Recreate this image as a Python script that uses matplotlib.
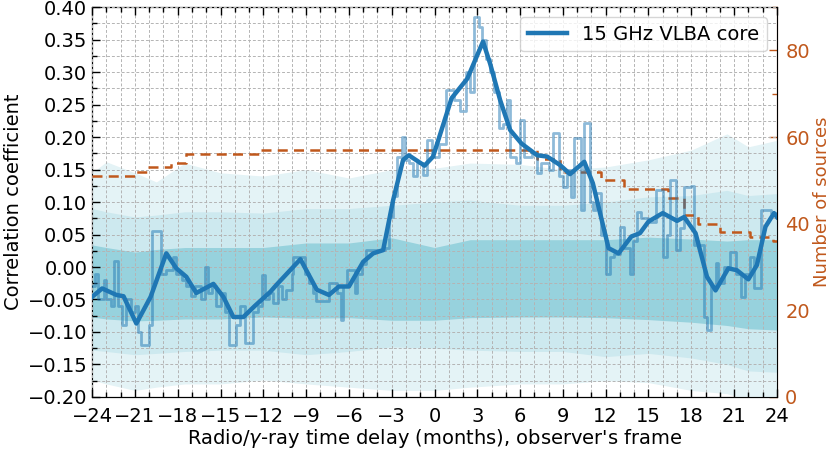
import matplotlib
matplotlib.use("Agg")
import matplotlib.pyplot as plt
from matplotlib.ticker import MultipleLocator, FuncFormatter

# ---- data ----
raw_lag = [-24.0, -23.8, -23.6, -23.2, -23.0, -22.7, -22.5, -22.2, -21.9, -21.6, -21.3, -21.0, -20.8, -20.6,
           -20.0, -19.8, -19.2, -18.8, -18.3, -18.1, -17.7, -17.4, -17.1, -16.8, -16.4, -16.1, -15.9, -15.6,
           -15.3, -15.0, -14.7, -14.4, -13.9, -13.6, -13.3, -12.7, -12.4, -12.1, -11.9, -11.6, -11.3, -11.0,
           -10.7, -10.4, -10.0, -9.9, -9.1, -8.8, -8.5, -8.3, -7.4, -6.8, -6.55, -6.4, -6.1, -5.6, -5.4, -5.1,
           -4.8, -3.5, -3.2, -2.9, -2.6, -2.3, -2.1, -1.8, -1.5, -1.2, -0.8, -0.5, -0.2, 0.3, 0.8, 1.4, 1.8,
           2.2, 2.5, 2.8, 3.1, 3.3, 3.6, 3.9, 4.2, 4.5, 4.8, 5.1, 5.3, 5.7, 6.0, 6.3, 6.8, 7.2, 7.5, 8.0, 8.3,
           8.7, 9.0, 9.3, 9.6, 9.8, 10.3, 10.5, 10.9, 11.1, 11.3, 11.7, 12.0, 12.3, 12.6, 13.0, 13.3, 13.7,
           13.9, 14.2, 14.5, 15.0, 15.5, 16.0, 16.3, 16.5, 16.9, 17.2, 17.5, 18.0, 18.2, 18.9, 19.1, 19.4,
           19.7, 19.9, 20.3, 20.7, 21.1, 21.5, 21.8, 22.1, 22.4, 22.9, 23.6, 24.0]
raw_corr = [-0.03, -0.01, -0.05, -0.02, -0.05, -0.06, 0.01, -0.06, -0.09, -0.05, -0.07, -0.06, -0.10, -0.12,
            -0.09, 0.055, -0.01, -0.005, 0.015, -0.01, -0.02, -0.03, -0.045, -0.03, -0.05, 0.0, -0.04, -0.03,
            -0.06, -0.04, -0.07, -0.12, -0.09, -0.06, -0.117, -0.07, -0.06, -0.012, -0.05, -0.04, -0.055, -0.03,
            -0.05, -0.035, -0.01, 0.016, -0.01, -0.025, -0.04, -0.053, -0.025, -0.04, -0.082, -0.03, -0.005,
            -0.04, -0.01, 0.005, 0.026, 0.03, 0.077, 0.11, 0.17, 0.20, 0.165, 0.16, 0.14, 0.16, 0.142, 0.195,
            0.17, 0.19, 0.272, 0.257, 0.24, 0.30, 0.27, 0.385, 0.37, 0.35, 0.32, 0.30, 0.27, 0.214, 0.22, 0.257,
            0.17, 0.16, 0.226, 0.17, 0.175, 0.144, 0.16, 0.15, 0.206, 0.14, 0.123, 0.15, 0.108, 0.198, 0.088,
            0.221, 0.10, 0.088, 0.114, 0.05, -0.01, 0.015, 0.02, 0.062, 0.03, -0.01, 0.04, 0.085, 0.075, 0.07,
            0.118, 0.015, 0.05, 0.134, 0.026, 0.06, 0.123, 0.125, 0.034, -0.077, -0.097, -0.03, 0.006, -0.025,
            0.0, 0.023, -0.01, -0.046, -0.01, 0.015, -0.033, 0.088, 0.083, 0.083]

smooth_lag = [-24.0, -23.3, -22.3, -21.8, -20.9, -19.9, -18.8, -18.1, -17.4, -16.7, -15.5, -14.8, -14.1,
              -13.4, -12.6, -11.5, -11.1, -9.4, -8.25, -7.4, -6.7, -6.0, -5.0, -4.3, -3.6, -2.9, -2.2, -1.8,
              -0.7, -0.1, 1.2, 2.3, 3.4, 3.9, 4.6, 5.3, 6.1, 7.2, 7.9, 8.8, 9.5, 10.5, 11.1, 12.2, 12.9, 13.8,
              14.4, 15.0, 16.0, 17.0, 17.5, 18.3, 19.1, 19.7, 20.6, 21.2, 22.0, 22.6, 23.2, 23.8, 24.0]
smooth_corr = [-0.046, -0.033, -0.043, -0.045, -0.087, -0.046, 0.021, -0.002, -0.015, -0.040, -0.026, -0.046,
               -0.077, -0.077, -0.060, -0.038, -0.028, 0.012, -0.035, -0.043, -0.030, -0.030, 0.008, 0.021,
               0.026, 0.103, 0.165, 0.172, 0.156, 0.170, 0.260, 0.290, 0.347, 0.313, 0.257, 0.211, 0.190,
               0.172, 0.170, 0.157, 0.143, 0.162, 0.129, 0.029, 0.021, 0.047, 0.052, 0.070, 0.083, 0.071,
               0.077, 0.052, -0.015, -0.036, -0.002, -0.005, -0.019, 0.003, 0.062, 0.083, 0.077]

nsrc_lag = [-24, -20.9, -20.1, -18.5, -17.4, -12.2, 7.2, 8.8, 11.7, 13.3, 16.4, 17.5, 18.5, 20.0, 22.15, 23.7, 24]
nsrc = [51, 52, 53, 54, 56, 57, 55, 52, 50, 48, 46, 42, 40, 38, 37, 36, 36]

band_lag = [-24, -23, -21, -19.5, -17.5, -15, -12, -9, -6, -3, 0, 2.5, 6, 9, 12, 15, 18, 20.5, 22, 24]
outer_hi = [0.145, 0.162, 0.145, 0.131, 0.16, 0.145, 0.14, 0.15, 0.137, 0.15, 0.152, 0.16, 0.158, 0.15,
            0.154, 0.165, 0.18, 0.205, 0.185, 0.195]
mid_hi = [0.09, 0.085, 0.077, 0.08, 0.085, 0.085, 0.083, 0.09, 0.09, 0.095, 0.1, 0.103, 0.095, 0.095,
          0.1, 0.108, 0.11, 0.118, 0.11, 0.113]
inner_hi = [0.034, 0.03, 0.023, 0.027, 0.03, 0.03, 0.03, 0.037, 0.037, 0.045, 0.03, 0.042, 0.042, 0.042,
            0.042, 0.046, 0.043, 0.04, 0.042, 0.042]
inner_lo = [-0.077, -0.08, -0.083, -0.082, -0.08, -0.08, -0.077, -0.079, -0.078, -0.082, -0.082, -0.078,
            -0.077, -0.077, -0.078, -0.081, -0.085, -0.09, -0.095, -0.097]
mid_lo = [-0.128, -0.13, -0.135, -0.133, -0.13, -0.128, -0.128, -0.135, -0.13, -0.123, -0.125, -0.128,
          -0.13, -0.13, -0.138, -0.133, -0.14, -0.15, -0.16, -0.162]
outer_lo = [-0.174, -0.18, -0.19, -0.185, -0.18, -0.18, -0.174, -0.18, -0.185, -0.19, -0.19, -0.185,
            -0.18, -0.18, -0.175, -0.178, -0.19, -0.195, -0.205, -0.21]

xticks = list(range(-24, 25, 3))

# ---- plot ----
plt.rcParams['font.family'] = ['DejaVu Sans']
plt.rcParams['axes.unicode_minus'] = True

BLUE = '#1f77b4'
ORANGE = '#c0581c'
FS_TICK = 14
FS_LAB = 14

fig = plt.figure(figsize=(8.3, 4.49), dpi=100)
ax = fig.add_axes([0.111, 0.116, 0.825, 0.868])
ax2 = ax.twinx()
ax.set_zorder(ax2.get_zorder() + 1)
ax.patch.set_visible(False)

ax.fill_between(band_lag, outer_lo, outer_hi, color='#e4f3f6', lw=0, zorder=1)
ax.fill_between(band_lag, mid_lo, mid_hi, color='#cde9ef', lw=0, zorder=1.1)
ax.fill_between(band_lag, inner_lo, inner_hi, color='#97d2dd', lw=0, zorder=1.2)

ax2.set_ylim(0, 90)
ax.step(nsrc_lag, nsrc, where='post', color=ORANGE, ls=(0, (4, 2.5)), lw=1.8, zorder=2.7,
        transform=ax2.transData)

ax.plot(raw_lag, raw_corr, drawstyle='steps-post', color=BLUE, alpha=0.5, lw=2, zorder=3)
ax.plot(smooth_lag, smooth_corr, color=BLUE, lw=3.2, zorder=4, label='15 GHz VLBA core')

ax.set_xlim(-24, 24)
ax.set_ylim(-0.2, 0.4)
ax.set_xticks(xticks)
ax.xaxis.set_minor_locator(MultipleLocator(1))
ax.yaxis.set_major_locator(MultipleLocator(0.05))
ax.yaxis.set_minor_locator(MultipleLocator(0.025))
ax.xaxis.set_major_formatter(FuncFormatter(lambda v, p: f'{int(round(v))}'.replace('-', '\u2212')))
ax.yaxis.set_major_formatter(FuncFormatter(lambda v, p: f'{v:.2f}'.replace('-', '\u2212')))
ax.set_axisbelow(False)
ax.grid(True, which='both', ls=(0, (3, 2)), color='#b4b4b4', lw=0.7, zorder=2.5)
ax.tick_params(which='both', direction='in', top=True, labelsize=FS_TICK)
ax.tick_params(which='major', length=6, width=1)
ax.tick_params(which='minor', length=3.5, width=1)
ax.tick_params(axis='x', which='major', pad=7)
ax.set_xlabel("Radio/$\\gamma$-ray time delay (months), observer's frame", fontsize=FS_LAB, labelpad=1)
ax.set_ylabel('Correlation coefficient', fontsize=FS_LAB, labelpad=3)

ax2.yaxis.set_major_locator(MultipleLocator(20))
ax2.yaxis.set_minor_locator(MultipleLocator(10))
ax2.tick_params(which='both', direction='in', colors=ORANGE, labelsize=FS_TICK)
ax2.tick_params(which='major', length=6, width=1, pad=6)
ax2.tick_params(which='minor', length=3.5, width=1)
ax2.spines['right'].set_color(ORANGE)
ax2.set_ylabel('Number of sources', color=ORANGE, fontsize=13, labelpad=2)

ax.legend(loc='upper right', fontsize=FS_TICK, framealpha=0.8, borderaxespad=0.5,
          handlelength=2.0)

fig.savefig('out.png', dpi=100)
